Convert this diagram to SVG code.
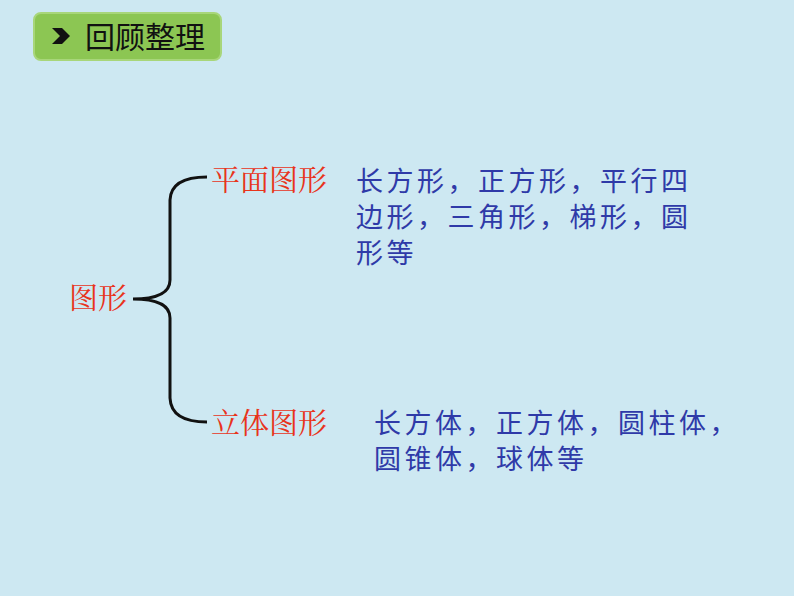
<svg xmlns="http://www.w3.org/2000/svg" width="794" height="596" viewBox="0 0 794 596">
<style>
.r{font-family:"Noto Serif CJK SC","Noto Sans CJK SC",serif;font-size:29px;fill:#e8341c}
.b{font-family:"Noto Sans CJK SC",sans-serif;font-size:27px;fill:#2f3aa8;letter-spacing:3.5px}
</style>
<rect width="794" height="596" fill="#cde8f2"/>
<g id="header">
<rect x="34" y="13" width="187" height="47" rx="7" fill="#8cc653" stroke="#a8d67a" stroke-width="2"/>
<path d="M52 28 L62 28 L70 36 L62 44 L52 44 L60 36 Z" fill="#111"/>
<text x="85" y="48" font-family="'Noto Sans CJK SC',sans-serif" font-size="30" fill="#111">回顾整理</text>
</g>
<g id="connectors">
<path d="M207 177 Q171 177 170 200 L170 280 Q170 299 133 299 Q170 299 170 318 L170 398 Q171 422 207 422" fill="none" stroke="#111" stroke-width="3"/>
</g>
<g id="root"><text class="r" x="69" y="309">图形</text></g>
<g id="plane"><text class="r" x="211" y="191">平面图形</text></g>
<g id="solid"><text class="r" x="211" y="434">立体图形</text></g>
<g id="plane-list">
<text class="b" x="356" y="191">长方形，正方形，平行四</text>
<text class="b" x="356" y="227">边形，三角形，梯形，圆</text>
<text class="b" x="356" y="263">形等</text>
</g>
<g id="solid-list">
<text class="b" x="374" y="433">长方体，正方体，圆柱体，</text>
<text class="b" x="374" y="469">圆锥体，球体等</text>
</g>
</svg>
